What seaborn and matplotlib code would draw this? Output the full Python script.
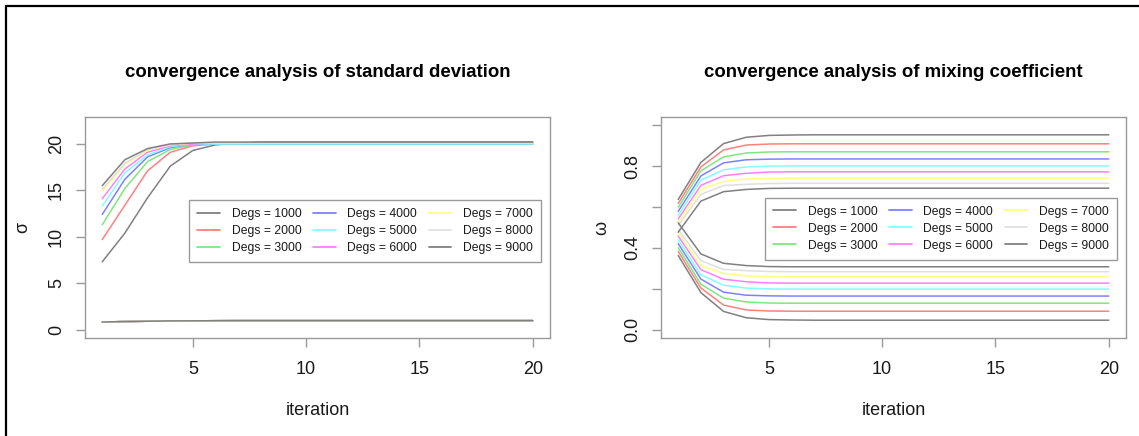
import numpy as np
import pandas as pd
import matplotlib
matplotlib.use("Agg")
import matplotlib.pyplot as plt
from matplotlib.lines import Line2D
import seaborn as sns

# ---------------- data ----------------
iterations = list(range(1, 21))
degs = [1000, 2000, 3000, 4000, 5000, 6000, 7000, 8000, 9000]
legend_labels = [f"Degs = {d}" for d in degs]

# larger standard deviation component (converges to ~20)
sigma_high = {
    1000: [7.3, 10.4, 14.2, 17.6, 19.3, 19.9, 20.1] + [20.2] * 13,
    2000: [9.7, 13.4, 17.1, 19.1, 19.8, 20.0, 20.0] + [20.0] * 13,
    3000: [11.3, 15.2, 18.1, 19.4, 19.9, 20.0, 20.0] + [20.0] * 13,
    4000: [12.4, 16.2, 18.6, 19.6, 20.0, 20.0, 20.0] + [20.0] * 13,
    5000: [13.3, 16.9, 18.8, 19.7, 20.0, 20.0, 20.0] + [20.0] * 13,
    6000: [14.1, 17.3, 19.1, 19.8, 20.0, 20.1, 20.1] + [20.1] * 13,
    7000: [14.9, 17.8, 19.3, 19.9, 20.1, 20.1, 20.1] + [20.1] * 13,
    8000: [15.1, 17.9, 19.4, 19.9, 20.1, 20.1, 20.1] + [20.1] * 13,
    9000: [15.5, 18.3, 19.5, 20.0, 20.1, 20.2, 20.2] + [20.2] * 13,
}
# smaller standard deviation component (stays near 1)
sigma_low = {
    d: [0.82, 0.87, 0.91, 0.94, 0.95, 0.96, 0.97] + [0.97] * 13 for d in degs
}

# mixing coefficient of first component (upper branch)
omega_high = {
    1000: [0.637, 0.818, 0.910, 0.941, 0.950, 0.952, 0.953] + [0.953] * 13,
    2000: [0.617, 0.796, 0.879, 0.903, 0.908, 0.909, 0.909] + [0.909] * 13,
    3000: [0.599, 0.777, 0.845, 0.864, 0.869, 0.870, 0.870] + [0.870] * 13,
    4000: [0.579, 0.752, 0.816, 0.831, 0.834, 0.835, 0.835] + [0.835] * 13,
    5000: [0.560, 0.731, 0.782, 0.796, 0.800, 0.801, 0.801] + [0.801] * 13,
    6000: [0.542, 0.706, 0.753, 0.765, 0.771, 0.772, 0.772] + [0.772] * 13,
    7000: [0.525, 0.686, 0.725, 0.737, 0.740, 0.741, 0.741] + [0.741] * 13,
    8000: [0.510, 0.662, 0.705, 0.711, 0.715, 0.716, 0.716] + [0.716] * 13,
    9000: [0.477, 0.629, 0.675, 0.686, 0.691, 0.692, 0.692] + [0.692] * 13,
}
# mixing coefficient of second component (lower branch)
omega_low = {
    1000: [0.363, 0.182, 0.090, 0.059, 0.050, 0.048, 0.047] + [0.047] * 13,
    2000: [0.383, 0.204, 0.121, 0.097, 0.092, 0.091, 0.091] + [0.091] * 13,
    3000: [0.401, 0.223, 0.155, 0.136, 0.131, 0.130, 0.130] + [0.130] * 13,
    4000: [0.421, 0.248, 0.184, 0.169, 0.166, 0.165, 0.165] + [0.165] * 13,
    5000: [0.440, 0.269, 0.218, 0.204, 0.200, 0.199, 0.199] + [0.199] * 13,
    6000: [0.458, 0.294, 0.247, 0.235, 0.229, 0.228, 0.228] + [0.228] * 13,
    7000: [0.475, 0.314, 0.275, 0.263, 0.260, 0.259, 0.259] + [0.259] * 13,
    8000: [0.490, 0.338, 0.295, 0.289, 0.285, 0.284, 0.284] + [0.284] * 13,
    9000: [0.523, 0.371, 0.325, 0.314, 0.309, 0.308, 0.308] + [0.308] * 13,
}

colors = ["#808080", "#ff8080", "#80e680", "#8080ff", "#80ffff",
          "#ff80ff", "#ffff80", "#dfdfdf", "#808080"]

sigma_yticks = [0, 5, 10, 15, 20]
omega_yticks = [0.0, 0.2, 0.4, 0.6, 0.8, 1.0]
omega_yticklabels = ["0.0", "", "0.4", "", "0.8", ""]
xticks = [5, 10, 15, 20]


def long_frame(high, low):
    rows = []
    for d in degs:
        for comp, src in (("a", high), ("b", low)):
            for it, v in zip(iterations, src[d]):
                rows.append({"iteration": it, "value": v, "Degs": d,
                             "unit": f"{d}-{comp}"})
    return pd.DataFrame(rows)


sigma_df = long_frame(sigma_high, sigma_low)
omega_df = long_frame(omega_high, omega_low)

# ---------------- style ----------------
sns.set_style("white")
plt.rcParams["font.family"] = ["Liberation Sans", "DejaVu Sans"]

W, H = 1139, 436
fig = plt.figure(figsize=(W / 100, H / 100), dpi=100)
fig.patch.set_facecolor("white")

def px_axes(x0, y0, x1, y1):
    return fig.add_axes([x0 / W, 1 - y1 / H, (x1 - x0) / W, (y1 - y0) / H])

axL = px_axes(85, 117, 550, 338)
axR = px_axes(661, 117, 1126, 338)

palette = dict(zip(degs, colors))

for ax, df in ((axL, sigma_df), (axR, omega_df)):
    sns.lineplot(data=df, x="iteration", y="value", hue="Degs",
                 units="unit", estimator=None, palette=palette,
                 linewidth=1.1, legend=False, ax=ax)

axL.set_xlim(0.24, 20.76)
axR.set_xlim(0.24, 20.76)
axL.set_ylim(-0.9, 22.9)
axR.set_ylim(-0.04, 1.04)

axL.set_yticks(sigma_yticks)
axL.set_yticklabels([str(v) for v in sigma_yticks])
axR.set_yticks(omega_yticks)
axR.set_yticklabels(omega_yticklabels)

frame_col = "#9a9a9a"
text_col = "#1a1a1a"
for ax in (axL, axR):
    ax.set_xticks(xticks)
    ax.set_xticklabels([str(v) for v in xticks])
    for sp in ax.spines.values():
        sp.set_color(frame_col)
        sp.set_linewidth(1.0)
    ax.tick_params(axis="both", which="major", direction="out", length=6.5,
                   width=1.0, color=frame_col, labelsize=13, labelcolor=text_col,
                   pad=8, left=True, bottom=True)
    ax.tick_params(axis="x", pad=10)
    for lab in ax.get_yticklabels():
        lab.set_rotation(90)
        lab.set_va("center")
    ax.set_xlabel("iteration", fontsize=13, color=text_col)
    ax.xaxis.set_label_coords(0.5, -0.29)

axL.set_ylabel("σ", fontsize=13, color=text_col)
axL.yaxis.set_label_coords(-0.115, 0.5)
axR.set_ylabel("ω", fontsize=13, color=text_col)
axR.yaxis.set_label_coords(-0.11, 0.5)

axL.set_title("convergence analysis of standard deviation", fontsize=13.4,
              fontweight="bold", pad=29, color="black")
axR.set_title("convergence analysis of mixing coefficient", fontsize=13.4,
              fontweight="bold", pad=29, color="black")

handles = [Line2D([0], [0], color=c, lw=1.3) for c in colors]
for ax, ytop in ((axL, 0.624), (axR, 0.635)):
    leg = ax.legend(handles, legend_labels, ncol=3, loc="upper right",
                    bbox_to_anchor=(0.98, ytop), fontsize=8.7,
                    frameon=True, fancybox=False, framealpha=1,
                    edgecolor=frame_col, handlelength=1.9,
                    handletextpad=0.95, columnspacing=0.95,
                    labelspacing=0.42, borderpad=0.65, borderaxespad=0)
    leg.get_frame().set_linewidth(1.0)
    for t in leg.get_texts():
        t.set_color(text_col)

# outer border (left and top edges)
fig.add_artist(Line2D([6 / W, 6 / W], [0, 1 - 6 / H], color="black",
                      lw=1.6, transform=fig.transFigure))
fig.add_artist(Line2D([6 / W, 1], [1 - 6 / H, 1 - 6 / H], color="black",
                      lw=1.6, transform=fig.transFigure))

fig.savefig("out.png", dpi=100)
